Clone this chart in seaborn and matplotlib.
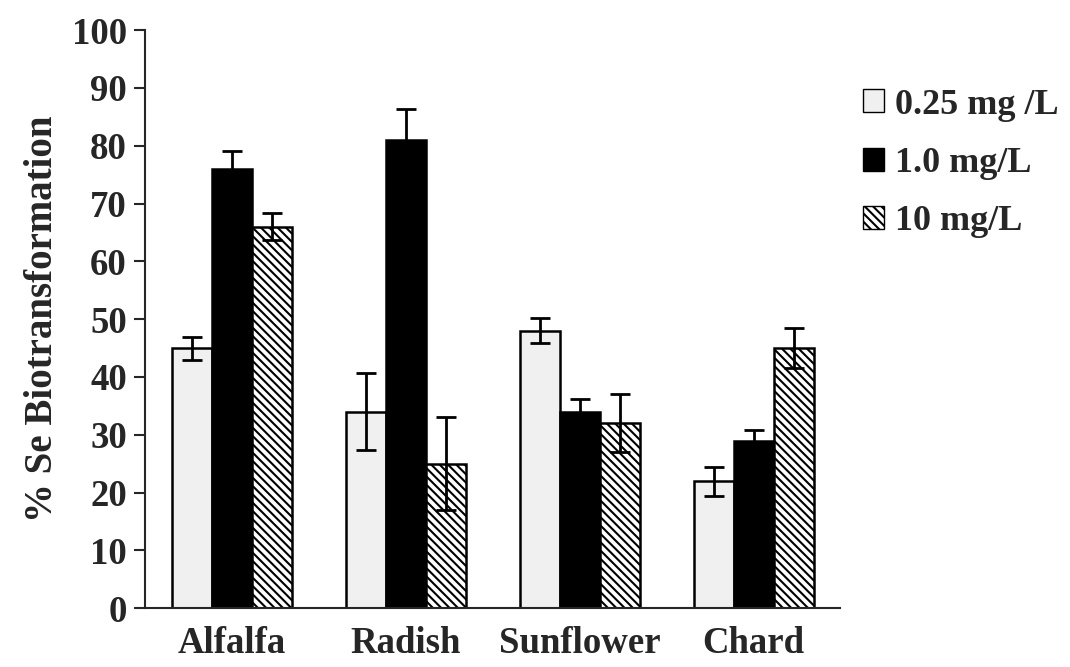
import seaborn as sns
import matplotlib.pyplot as plt
import matplotlib.patches as mpatches
import pandas as pd
import numpy as np

plants = ["Alfalfa", "Radish", "Sunflower", "Chard"]
doses = ["0.25 mg /L", "1.0 mg/L", "10 mg/L"]
vals_025 = [45, 34, 48, 22]
vals_10 = [76, 81, 34, 29]
vals_100 = [66, 25, 32, 45]
err_025 = [2.0, 6.7, 2.2, 2.5]
err_10 = [3.0, 5.3, 2.2, 1.8]
err_100 = [2.3, 8.0, 5.0, 3.5]

df = pd.DataFrame({
    "plant": plants * 3,
    "dose": [doses[0]] * 4 + [doses[1]] * 4 + [doses[2]] * 4,
    "value": vals_025 + vals_10 + vals_100,
    "err": err_025 + err_10 + err_100,
})

sns.set_style("white")
plt.rcParams['font.family'] = ['Liberation Serif', 'DejaVu Serif']
plt.rcParams['font.weight'] = 'bold'
plt.rcParams['hatch.linewidth'] = 1.5

fig = plt.figure(figsize=(10.7, 6.67), dpi=100)
ax = fig.add_axes([0.1355, 0.088, 0.65, 0.867])

fills = ["#f0f0f0", "black", "white"]
hatches = [None, None, "\\\\\\\\"]

sns.barplot(data=df, x="plant", y="value", hue="dose", order=plants, hue_order=doses,
            palette=fills, edgecolor="black", linewidth=1.8, width=0.69, errorbar=None,
            legend=False, ax=ax)

# patches come out grouped by hue
for k, dose in enumerate(doses):
    sub = df[df["dose"] == dose]
    for j, p in enumerate(ax.patches[k * 4:(k + 1) * 4]):
        p.set_facecolor(fills[k])
        if hatches[k]:
            p.set_hatch(hatches[k])
        x = p.get_x() + p.get_width() / 2
        ax.errorbar(x, sub["value"].iloc[j], yerr=sub["err"].iloc[j], color="black",
                    elinewidth=2, capsize=7, capthick=2, zorder=5)

ax.set_ylim(0, 100)
ax.set_xlim(-0.5, 3.5)
ax.set_yticks(np.arange(0, 101, 10))
ax.tick_params(axis='y', direction='out', length=8, width=1.5, left=True, labelsize=26.5, pad=5)
ax.tick_params(axis='x', length=0, labelsize=26.5, pad=13)
for lab in ax.get_xticklabels() + ax.get_yticklabels():
    lab.set_fontweight('bold')
ax.spines['top'].set_visible(False)
ax.spines['right'].set_visible(False)
ax.spines['left'].set_linewidth(1.5)
ax.spines['bottom'].set_linewidth(1.5)
ax.set_xlabel("")
ax.set_ylabel("% Se Biotransformation", fontsize=28, fontweight='bold', labelpad=8)

handles = [mpatches.Patch(facecolor=fills[k], edgecolor="black", hatch=hatches[k], label=doses[k])
           for k in range(3)]
ax.legend(handles=handles, loc="upper left", bbox_to_anchor=(0.985, 0.955), frameon=False,
          prop={'size': 26, 'weight': 'bold'}, handlelength=0.6, handleheight=0.6,
          handletextpad=0.3, labelspacing=0.7)

fig.savefig("out.png", dpi=100)
